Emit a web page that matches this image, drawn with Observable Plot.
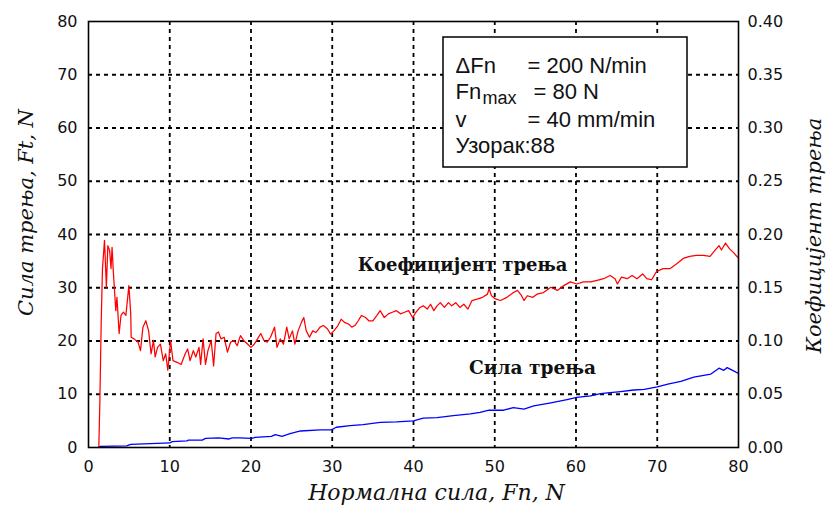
<!DOCTYPE html>
<html>
<head>
<meta charset="utf-8">
<script src="https://cdn.jsdelivr.net/npm/d3@7"></script>
<script src="https://cdn.jsdelivr.net/npm/@observablehq/plot@0.6"></script>
<style>
  html, body { margin: 0; padding: 0; background: #fff; }
  #chart svg { display: block; }
</style>
</head>
<body>
<div id="chart"></div>
<script>
// Normal force Fn (N) for the friction-coefficient series
const coefFn = [1.27,1.4,1.56,1.72,1.97,2.2,2.38,2.6,2.77,2.9,3.05,3.36,3.5,3.77,4.0,4.3,4.6,4.97,5.2,5.25,5.6,6.1,6.4,6.7,7.06,7.4,7.7,8.0,8.2,8.5,8.85,9.2,9.5,9.76,10.1,10.4,10.9,11.4,11.9,12.2,12.5,12.9,13.2,13.6,13.8,14.1,14.4,14.7,15.1,15.4,15.7,16.0,16.3,16.7,17.1,17.5,17.9,18.3,18.7,19.1,19.6,20.0,20.4,20.8,21.2,21.6,22.0,22.4,
  22.9,23.2,23.6,24.0,24.4,24.7,25.1,25.4,25.8,26.2,26.5,26.8,27.2,27.6,28.0,28.5,28.9,29.4,29.8,30.2,30.7,31.1,31.5,32.0,32.4,32.8,33.2,33.6,34.1,34.5,35.0,35.5,35.9,36.4,36.9,37.4,37.9,38.4,38.9,39.4,39.9,40.3,40.8,41.2,41.7,42.1,42.5,42.9,43.3,43.8,44.3,44.7,45.2,45.7,46.2,46.7,47.2,47.9,48.5,49.1,49.3,49.6,50.1,
  50.7,51.5,52.3,52.8,53.3,53.6,54.0,54.7,55.2,56.0,56.9,57.7,58.5,59.3,60.1,60.9,61.8,62.6,63.4,64.2,64.8,65.1,65.6,66.3,66.9,67.5,68.2,68.7,69.3,69.9,70.7,71.6,72.4,73.2,74.0,74.8,75.7,76.5,77.1,77.6,77.9,78.4,78.9,79.4,79.9];
// Friction coefficient (right axis)
const coefValues = [0,0.044,0.116,0.168,0.1945,0.1505,0.1895,0.185,0.168,0.188,0.166,0.1285,0.141,0.107,0.124,0.127,0.124,0.152,0.1255,0.1035,0.102,0.099,0.091,0.113,0.119,0.1095,0.088,0.1005,0.085,0.094,0.097,0.0815,0.088,0.0725,0.1005,0.0815,0.08,0.078,0.088,0.0925,0.0815,0.091,0.085,0.094,0.078,0.102,0.078,0.091,0.1005,0.0765,0.107,0.1085,0.102,0.1035,0.0895,0.099,0.1005,0.0955,0.105,0.1005,0.097,0.094,0.097,0.102,0.107,0.1005,0.099,0.1035,
  0.113,0.094,0.102,0.097,0.113,0.102,0.1095,0.097,0.1095,0.1175,0.122,0.1095,0.1035,0.1095,0.108,0.113,0.1145,0.1115,0.1065,0.1095,0.1145,0.1205,0.1175,0.116,0.113,0.1145,0.119,0.124,0.122,0.119,0.119,0.124,0.1285,0.122,0.1255,0.127,0.1285,0.1255,0.127,0.1285,0.122,0.127,0.1315,0.133,0.13,0.1345,0.1285,0.133,0.136,0.1315,0.136,0.133,0.136,0.1315,0.1345,0.13,0.138,0.1395,0.141,0.144,0.149,0.1425,0.1395,
  0.138,0.141,0.1455,0.1475,0.1425,0.138,0.1425,0.141,0.144,0.1455,0.1505,0.1475,0.152,0.1555,0.1535,0.1555,0.1555,0.157,0.1585,0.1615,0.1585,0.1535,0.16,0.1585,0.1615,0.1585,0.163,0.1585,0.1575,0.165,0.168,0.168,0.1725,0.1775,0.1795,0.1805,0.1805,0.1795,0.185,0.1895,0.1855,0.192,0.1865,0.183,0.1785];

// Normal force Fn (N) for the friction-force series
const forceFn = [1.3,1.5,4.7,5.2,10.0,10.3,12.1,12.3,14.0,14.4,16.0,17.3,17.7,18.5,20.1,20.5,22.5,23.0,23.8,24.8,26.1,28.5,29.9,30.5,32.2,33.8,35.9,37.9,40.0,41.2,42.9,44.9,47.0,48.2,49.3,51.1,52.3,53.6,54.8,56.9,58.9,60.1,61.8,63.0,64.2,65.5,67.1,68.4,70.0,71.3,72.9,74.5,76.6,77.6,78.2,78.6,79.4,80.0];
// Friction force Ft (N, left axis)
const forceValues = [0.1,0.2,0.3,0.6,0.85,1.1,1.25,1.4,1.4,1.7,1.8,1.6,1.8,1.8,1.7,1.9,2.1,2.4,2.1,2.6,3.1,3.3,3.3,3.8,4.1,4.3,4.7,4.8,5.0,5.5,5.6,6.0,6.3,6.6,7.0,7.0,7.5,7.2,7.8,8.4,9.0,9.4,9.7,10.1,10.3,10.5,10.8,10.9,11.4,11.9,12.4,13.2,13.8,14.9,14.5,15.0,14.4,13.9];

const xTicks = [0, 10, 20, 30, 40, 50, 60, 70, 80];
const yTicks = [0, 10, 20, 30, 40, 50, 60, 70, 80];
const gridTicks = [10, 20, 30, 40, 50, 60, 70];
const coefScale = 200; // left-axis units per unit of coefficient (0.40 ↔ 80)

const coefData = coefFn.map((x, i) => ({x, c: coefValues[i]}));
const forceData = forceFn.map((x, i) => ({x, f: forceValues[i]}));

const tickFont = "'DejaVu Sans', sans-serif";
const serif = "'DejaVu Serif', serif";
const boxFont = "'Liberation Sans', Arial, sans-serif";
const ink = "#111";

// pixel helpers for annotation placement (plot area 88–738 × 21–447)
const px2x = p => (p - 88) / 8.125;
const py2y = p => (447 - p) / 5.325;

const boxText = (t, left, base, size) =>
  Plot.text([t], {x: px2x(left), y: py2y(base), lineAnchor: "bottom", textAnchor: "start",
    fontFamily: boxFont, fontSize: size, fill: ink});

const chart = Plot.plot({
  width: 831,
  height: 509,
  marginLeft: 88,
  marginRight: 93,
  marginTop: 21,
  marginBottom: 62,
  style: {fontFamily: tickFont, fontSize: "16px", color: ink, background: "#fff"},
  x: {domain: [0, 80]},
  y: {domain: [0, 80]},
  marks: [
    Plot.gridX(gridTicks, {stroke: "#000", strokeOpacity: 1, strokeWidth: 1.8, strokeDasharray: "4,4"}),
    Plot.gridY(gridTicks, {stroke: "#000", strokeOpacity: 1, strokeWidth: 1.8, strokeDasharray: "4,4"}),
    Plot.axisX(xTicks, {tickSize: 0, tickPadding: 13, label: null, fontSize: 16}),
    Plot.axisY(yTicks, {anchor: "left", tickSize: 0, tickPadding: 11, label: null, fontSize: 16}),
    Plot.axisY(yTicks, {anchor: "right", tickSize: 0, tickPadding: 9, label: null, fontSize: 16,
      tickFormat: d => (d / coefScale).toFixed(2)}),
    Plot.line(forceData, {x: "x", y: "f", stroke: "#0000ff", strokeWidth: 1.3}),
    Plot.line(coefData, {x: "x", y: d => d.c * coefScale, stroke: "#ff0000", strokeWidth: 1.25}),
    Plot.frame({stroke: "#000", strokeWidth: 1.6}),
    // parameter box
    Plot.rect([0], {x1: px2x(443), x2: px2x(687), y1: py2y(167), y2: py2y(37), fill: "#fff", stroke: "#000", strokeWidth: 1.5}),
    boxText("ΔFn", 455, 72, 22),
    boxText("= 200 N/min", 527, 72, 22),
    boxText("Fn", 455, 98, 22),
    boxText("max", 482, 103, 18),
    boxText("= 80 N", 533, 98, 22),
    boxText("v", 455, 126, 22),
    boxText("= 40 mm/min", 527, 126, 22),
    boxText("Узорак:88", 455, 152, 22),
    // series annotations
    Plot.text(["Коефицијент трења"], {x: px2x(462), y: py2y(265), fontFamily: serif, fontWeight: "bold", fontSize: 18, fill: ink}),
    Plot.text(["Сила трења"], {x: px2x(532), y: py2y(368), fontFamily: serif, fontWeight: "bold", fontSize: 18.5, fill: ink}),
    // axis titles
    Plot.text(["Нормална сила, Fn, N"], {frameAnchor: "bottom", textAnchor: "middle", lineAnchor: "middle", dx: 23, dy: 45, fontFamily: serif, fontStyle: "italic", fontSize: 22, fill: ink}),
    Plot.text(["Сила трења, Ft, N"], {frameAnchor: "left", textAnchor: "middle", lineAnchor: "middle", rotate: -90, dx: -62, dy: -22, fontFamily: serif, fontStyle: "italic", fontSize: 21, fill: ink}),
    Plot.text(["Коефицијент трења"], {frameAnchor: "right", textAnchor: "middle", lineAnchor: "middle", rotate: -90, dx: 76, dy: 1, fontFamily: serif, fontStyle: "italic", fontSize: 21, fill: ink})
  ]
});
document.getElementById("chart").append(chart);
</script>
</body>
</html>
